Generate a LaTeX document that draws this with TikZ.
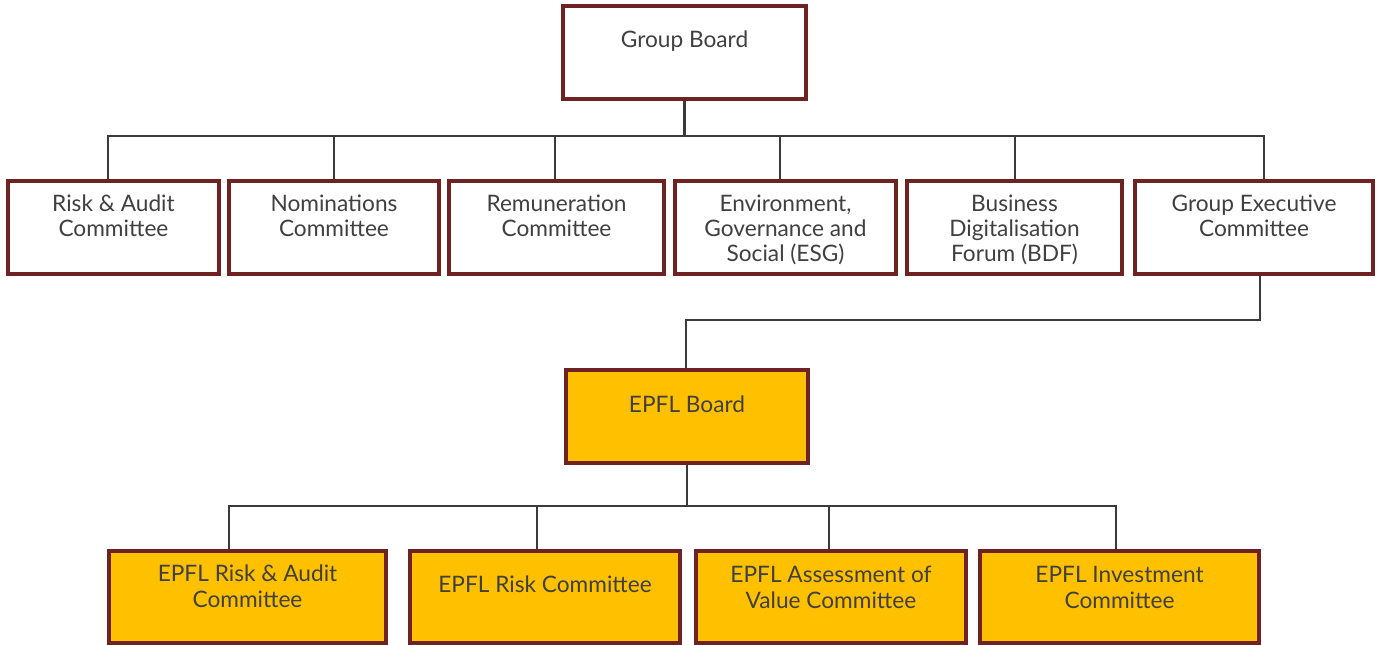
\documentclass[tikz,border=0pt]{standalone}
\usepackage{fontspec}
\setmainfont{Lato}
\usetikzlibrary{calc}
\definecolor{boxline}{HTML}{6E2222}
\definecolor{epfl}{HTML}{FFC000}
\definecolor{conn}{HTML}{3A3A3A}
\definecolor{txtc}{HTML}{404040}
\begin{document}
\begin{tikzpicture}[x=0.75pt,y=-0.75pt,
  box/.style={draw=boxline,line width=2.3pt,fill=white,inner sep=0pt},
  ybox/.style={box,fill=epfl},
  lbl/.style={anchor=base,align=center,inner sep=0pt,text=txtc,font=\fontsize{17}{18.9}\selectfont},
  conn/.style={draw=conn,line width=2pt}]
\useasboundingbox (0,0) rectangle (1381,645);
% boxes: corners in pixel coordinates
\newcommand{\pbox}[6]{\node[#1,minimum width={(#4-#3)*0.75pt},minimum height={(#6-#5)*0.75pt}] (#2) at ({(#3+#4)/2},{(#5+#6)/2}) {};}
\pbox{box}{gb}{563}{806}{6}{99}
\pbox{box}{ra}{8}{219}{181}{274}
\pbox{box}{nom}{229}{439}{181}{274}
\pbox{box}{rem}{449}{664}{181}{274}
\pbox{box}{esg}{675}{896}{181}{274}
\pbox{box}{bdf}{907}{1122}{181}{274}
\pbox{box}{gec}{1135}{1373}{181}{274}
\pbox{ybox}{eb}{566}{808}{370}{463}
\pbox{ybox}{era}{109}{386}{551}{643}
\pbox{ybox}{erc}{410}{680}{551}{643}
\pbox{ybox}{eav}{696}{966}{551}{643}
\pbox{ybox}{eic}{980}{1259}{551}{643}
% labels (anchor = baseline of the last line)
\node[lbl] at (gb.center |- 0,48) {Group Board};
\node[lbl] at (ra.center |- 0,237) {Risk \& Audit\\Committee};
\node[lbl] at (nom.center |- 0,237) {Nominations\\Committee};
\node[lbl] at (rem.center |- 0,237) {Remuneration\\Committee};
\node[lbl] at (esg.center |- 0,262) {Environment,\\Governance and\\Social (ESG)};
\node[lbl] at (bdf.center |- 0,262) {Business\\Digitalisation\\Forum (BDF)};
\node[lbl] at (gec.center |- 0,237) {Group Executive\\Committee};
\node[lbl] at (eb.center |- 0,412) {EPFL Board};
\node[lbl] at (era.center |- 0,607) {EPFL Risk \& Audit\\Committee};
\node[lbl] at (erc.center |- 0,592) {EPFL Risk Committee};
\node[lbl] at (eav.center |- 0,608) {EPFL Assessment of\\Value Committee};
\node[lbl] at (eic.center |- 0,608) {EPFL Investment\\Committee};
% connectors
\coordinate (bus1) at (gb.south |- 0,136);
\draw[conn] (gb.south) -- (bus1);
\draw[conn] (ra.north -| 108,0) |- (bus1) -| (gec.north -| 1264,0);
\draw[conn] (nom.north -| 334,0) -- (334,136);
\draw[conn] (rem.north -| 555,0) -- (555,136);
\draw[conn] (esg.north -| 780,0) -- (780,136);
\draw[conn] (bdf.north -| 1015,0) -- (1015,136);
\draw[conn] (gec.south -| 1260,0) |- (686,320) -- (eb.north -| 686,0);
\coordinate (bus2) at (eb.south |- 0,506);
\draw[conn] (eb.south) -- (bus2);
\draw[conn] (era.north -| 229,0) |- (bus2) -| (eic.north -| 1116,0);
\draw[conn] (erc.north -| 537,0) -- (537,506);
\draw[conn] (eav.north -| 829,0) -- (829,506);
\end{tikzpicture}
\end{document}
